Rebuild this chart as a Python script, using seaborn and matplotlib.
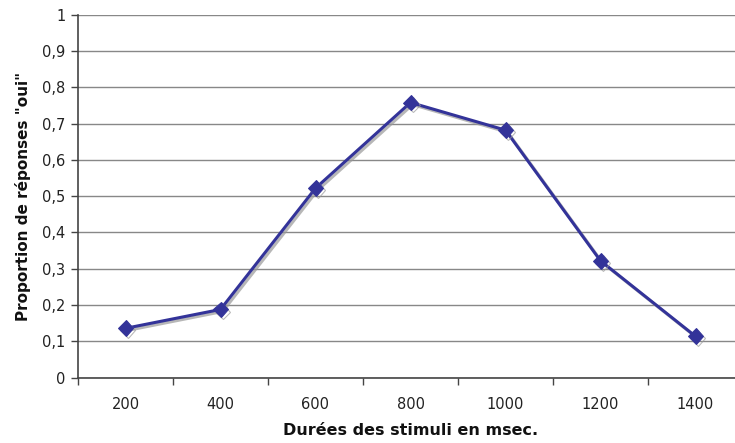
import matplotlib
matplotlib.use("Agg")
import matplotlib.pyplot as plt
import matplotlib.patheffects as pe
import seaborn as sns
import pandas as pd
import numpy as np

durees = ["200", "400", "600", "800", "1000", "1200", "1400"]
proportion_oui = [0.136, 0.188, 0.522, 0.758, 0.682, 0.322, 0.114]
y_ticks = [0, 0.1, 0.2, 0.3, 0.4, 0.5, 0.6, 0.7, 0.8, 0.9, 1.0]
y_tick_labels = ["0", "0,1", "0,2", "0,3", "0,4", "0,5", "0,6", "0,7", "0,8", "0,9", "1"]

df = pd.DataFrame({"duree": durees, "prop": proportion_oui})

sns.set_theme(style="white")
plt.rcParams['font.family'] = ['DejaVu Sans']

fig = plt.figure(figsize=(7.35, 4.43), dpi=100)
ax = fig.add_axes([78/735, 1-377.7/443, 665/735, (377.7-14.7)/443])

color = "#333399"
sns.lineplot(data=df, x="duree", y="prop", ax=ax, color=color, linewidth=2.2,
             marker="D", markersize=8, markeredgecolor=color, sort=False)
line = ax.lines[0]
line.set_path_effects([pe.SimpleLineShadow(offset=(1.5, -1.5), shadow_color="#999999", alpha=0.7),
                       pe.Normal()])

ax.set_xlim(-0.5, 6.5)
ax.set_ylim(0, 1)
ax.set_yticks(y_ticks)
ax.set_yticklabels(y_tick_labels, fontsize=10.5, color="#222222")
ax.set_xticks(range(len(durees)))
ax.set_xticklabels(durees, fontsize=10.5, color="#222222")
ax.tick_params(axis="x", which="major", length=0, pad=14, bottom=True)
ax.set_xticks(np.arange(-0.5, 7, 1), minor=True)
ax.tick_params(axis="x", which="minor", length=5, width=1, color="#444444", direction="out", bottom=True)
ax.tick_params(axis="y", which="major", length=5, width=1, color="#444444", direction="out", left=True, pad=4)

ax.grid(axis="y", color="#888888", linewidth=1)
ax.grid(axis="x", visible=False)
ax.set_axisbelow(True)

for s in ["top", "right"]:
    ax.spines[s].set_visible(False)
for s in ["left", "bottom"]:
    ax.spines[s].set_color("#444444")
    ax.spines[s].set_linewidth(1.2)

ax.set_xlabel("Durées des stimuli en msec.", fontsize=11.5, fontweight="bold", color="#111111", labelpad=8)
ax.set_ylabel('Proportion de réponses "oui"', fontsize=11, fontweight="bold", color="#111111", labelpad=8)

fig.savefig("out.png", dpi=100)
